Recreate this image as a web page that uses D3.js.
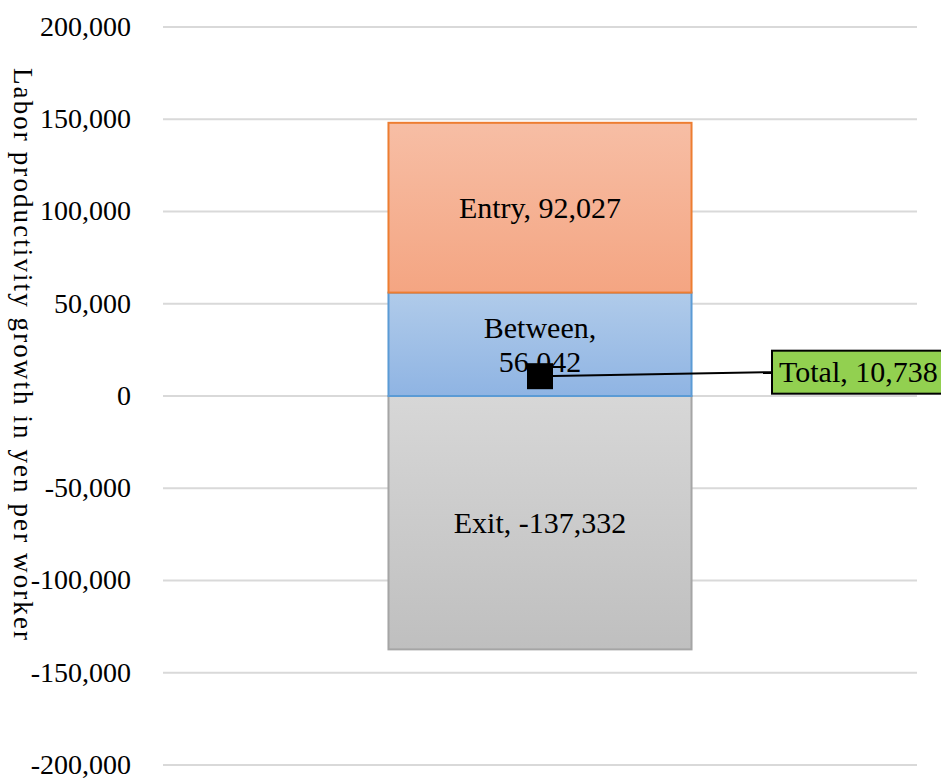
<!DOCTYPE html>
<html>
<head>
<meta charset="utf-8">
<script src="https://cdn.jsdelivr.net/npm/d3@7"></script>
<style>
  body { margin: 0; background: #fff; }
  text { font-family: "Liberation Serif", "Times New Roman", serif; }
</style>
</head>
<body>
<div class="canvas"></div>
<script>
// ---- DATA --- //
const segments = ['Exit', 'Between', 'Entry'];
const segmentValues = [-137332, 56042, 92027];
const totalValue = 10738;
const yTicks = [-200000, -150000, -100000, -50000, 0, 50000, 100000, 150000, 200000];

// ---- GRAPH CONTAINER SETUP --- //
const width = 941, height = 778;
const margin = { top: 27, right: 24, bottom: 13, left: 163 };
const graphWidth = width - margin.left - margin.right;
const graphHeight = height - margin.top - margin.bottom;
const tickFont = 28;
const labelFont = 30;

const svg = d3.select('.canvas')
    .append('svg')
    .attr('width', width)
    .attr('height', height);

const defs = svg.append('defs');
const grads = [
    { id: 'g-exit', top: '#d7d7d7', bottom: '#bfbfbf', stroke: '#a5a5a5' },
    { id: 'g-between', top: '#b0cbea', bottom: '#8fb4e3', stroke: '#5b9bd5' },
    { id: 'g-entry', top: '#f7bea5', bottom: '#f4a582', stroke: '#ed7d31' }
];
grads.forEach(g => {
    const lg = defs.append('linearGradient').attr('id', g.id)
        .attr('x1', 0).attr('y1', 0).attr('x2', 0).attr('y2', 1);
    lg.append('stop').attr('offset', '0%').attr('stop-color', g.top);
    lg.append('stop').attr('offset', '100%').attr('stop-color', g.bottom);
});

const graph = svg.append('g')
    .attr('transform', `translate(${margin.left},${margin.top})`);

// ---- SCALES / AXES --- //
const x = d3.scaleBand().domain(['']).range([0, graphWidth]).paddingInner(0).paddingOuter(0.744);
const y = d3.scaleLinear().domain([-200000, 200000]).range([graphHeight, 0]);

// hyphen instead of unicode minus, like the original
const fmt = v => d3.format(',')(v).replace('\u2212', '-');

// gridlines
graph.append('g')
    .selectAll('line')
    .data(yTicks)
    .enter().append('line')
    .attr('x1', 0).attr('x2', graphWidth)
    .attr('y1', d => y(d)).attr('y2', d => y(d))
    .attr('stroke', '#d9d9d9')
    .attr('stroke-width', 2);

const yAxis = d3.axisLeft(y)
    .tickValues(yTicks)
    .tickSize(0)
    .tickPadding(32)
    .tickFormat(fmt);

const yAxisGroup = graph.append('g').call(yAxis);
yAxisGroup.select('.domain').remove();
yAxisGroup.selectAll('text')
    .attr('font-size', tickFont)
    .attr('font-family', '"Liberation Serif", serif')
    .attr('dy', '0.3em')
    .attr('fill', '#000');

// axis title
svg.append('text')
    .attr('transform', `translate(14, 354) rotate(90)`)
    .attr('text-anchor', 'middle')
    .attr('font-size', 27)
    .attr('textLength', 572)
    .attr('lengthAdjust', 'spacing')
    .attr('fill', '#000')
    .text('Labor productivity growth in yen per worker');

// ---- STACKED SEGMENTS --- //
let posBase = 0, negBase = 0;
const stacked = segments.map((name, i) => {
    const v = segmentValues[i];
    let y0, y1;
    if (v >= 0) { y0 = posBase; y1 = posBase + v; posBase = y1; }
    else { y0 = negBase; y1 = negBase + v; negBase = y1; }
    return { name, value: v, y0, y1, style: grads[i] };
});

const bw = x.bandwidth();
const bx = x('');

graph.selectAll('rect.seg')
    .data(stacked)
    .enter().append('rect')
    .attr('class', 'seg')
    .attr('x', bx)
    .attr('width', bw)
    .attr('y', d => y(Math.max(d.y0, d.y1)))
    .attr('height', d => Math.abs(y(d.y0) - y(d.y1)))
    .attr('fill', d => `url(#${d.style.id})`)
    .attr('stroke', d => d.style.stroke)
    .attr('stroke-width', 2);

// segment labels
stacked.forEach(d => {
    const cy = y((d.y0 + d.y1) / 2);
    const t = graph.append('text')
        .attr('x', bx + bw / 2)
        .attr('text-anchor', 'middle')
        .attr('font-size', labelFont)
        .attr('fill', '#000');
    if (d.name === 'Between') {
        t.append('tspan').attr('x', bx + bw / 2).attr('y', cy - 6).text(`${d.name},`);
        t.append('tspan').attr('x', bx + bw / 2).attr('y', cy + 28).text(fmt(d.value));
    } else {
        t.attr('y', cy + 10).text(`${d.name}, ${fmt(d.value)}`);
    }
});

// ---- TOTAL MARKER --- //
const tx = bx + bw / 2;
const ty = y(totalValue);
const boxX = 609, boxW = 180, boxH = 43;
const boxCy = ty - 4;

graph.append('line')
    .attr('x1', tx).attr('y1', ty)
    .attr('x2', boxX).attr('y2', boxCy)
    .attr('stroke', '#000')
    .attr('stroke-width', 2);

graph.append('rect')
    .attr('x', tx - 13).attr('y', ty - 13)
    .attr('width', 26).attr('height', 26)
    .attr('fill', '#000');

graph.append('rect')
    .attr('x', boxX).attr('y', boxCy - boxH / 2)
    .attr('width', boxW).attr('height', boxH)
    .attr('fill', '#92d050')
    .attr('stroke', '#000')
    .attr('stroke-width', 2);

graph.append('text')
    .attr('x', boxX + 7)
    .attr('y', boxCy + 10)
    .attr('font-size', labelFont)
    .attr('fill', '#000')
    .text(`Total, ${fmt(totalValue)}`);
</script>
</body>
</html>
